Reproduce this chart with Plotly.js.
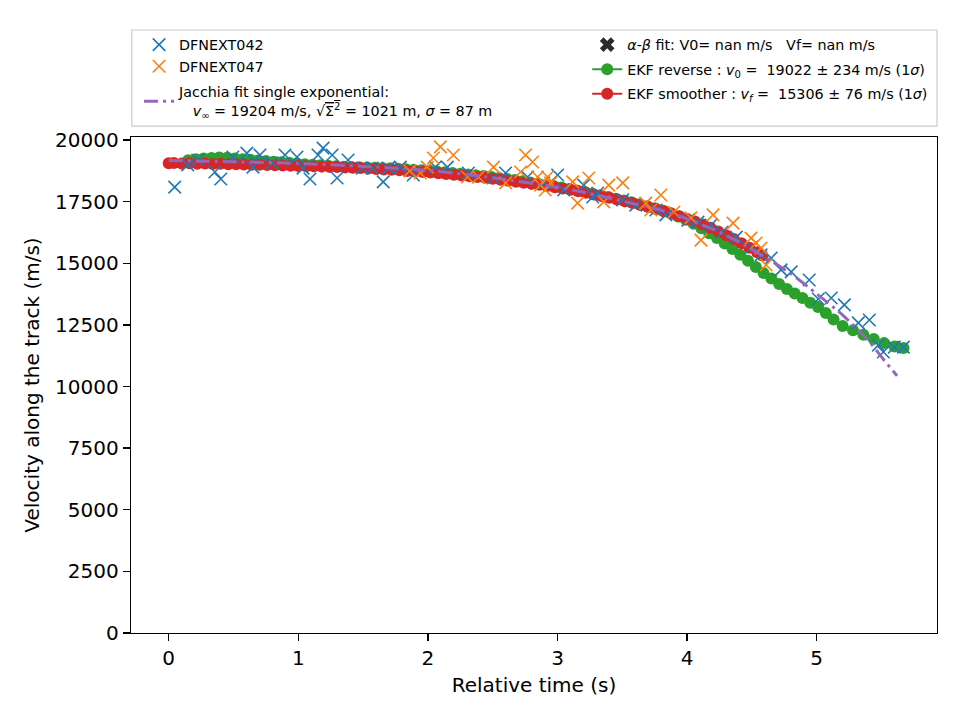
<!DOCTYPE html>
<html>
<head>
<meta charset="utf-8">
<script src="https://cdn.plot.ly/plotly-3.0.1.min.js"></script>
<style>html,body{margin:0;padding:0;background:#fff;}#chart{width:960px;height:720px;}</style>
</head>
<body>
<div id="chart"></div>
<script>
// DFNEXT042 observations
const t042 = [0.046,0.147,0.224,0.356,0.402,0.495,0.603,0.650,0.704,0.797,0.897,0.990,1.036,1.090,1.152,1.191,1.261,1.299,1.384,1.493,1.570,1.655,1.694,1.787,1.887,2.057,2.150,2.312,2.506,2.599,2.769,2.893,3.001,3.047,3.202,3.271,3.310,3.503,3.604,3.759,3.836,4.006,4.084,4.184,4.270,4.380,4.500,4.571,4.648,4.725,4.803,4.942,5.012,5.112,5.213,5.321,5.406,5.476,5.514,5.599,5.669];
const v042 = [18090,18990,19190,18700,18420,19310,19470,18900,19390,19070,19390,19310,18860,18420,19390,19670,19390,18460,19190,18860,18860,18300,18860,18900,18580,18900,18900,18660,18460,18660,18500,18260,18580,17970,18170,17690,17850,17570,17360,17160,16960,16750,16670,16550,16270,16060,15660,15340,15210,14730,14650,14320,13550,13590,13310,12580,12700,11680,11400,11600,11600];

// DFNEXT047 observations
const t047 = [1.860,1.941,1.995,2.042,2.096,2.196,2.305,2.390,2.506,2.600,2.715,2.753,2.807,2.846,2.869,2.905,2.923,2.947,3.117,3.155,3.241,3.357,3.395,3.503,3.681,3.720,3.797,3.898,4.029,4.107,4.200,4.354,4.493,4.532,4.571,4.610];
const v047 = [18750,18660,18900,19270,19720,19390,18500,18500,18900,18260,18700,19390,19110,18500,18170,17970,18500,18260,18300,17440,18460,17490,18170,18260,17440,17160,17770,17080,16840,15940,16960,16630,16020,15820,15620,14930];

// Jacchia fit single exponential
const tJac = [0,0.5,1.0,1.5,2.0,2.5,3.0,3.2,3.4,3.6,3.8,4.0,4.2,4.4,4.66,4.8,5.0,5.2,5.4,5.5,5.62];
const vJac = [19170,19120,19050,18930,18770,18470,18080,17880,17650,17400,17150,16800,16380,15860,15060,14580,13760,12900,11860,11200,10430];

// EKF reverse
const tRev = [0.15,0.21,0.27,0.33,0.39,0.45,0.51,0.57,0.63,0.69,0.75,0.81,0.87,0.93,0.99,1.05,1.11,1.17,1.23,1.29,1.35,1.41,1.47,1.53,1.59,1.65,1.71,1.77,1.83,1.89,1.95,2.01,2.07,2.13,2.19,2.25,2.31,2.37,2.43,2.49,2.55,2.61,2.67,2.73,2.79,2.85,2.91,2.97,3.03,3.09,3.15,3.21,3.27,3.33,3.39,3.45,3.51,3.57,3.63,3.69,3.75,3.81,3.87,3.93,3.99,4.05,4.11,4.17,4.23,4.29,4.35,4.41,4.47,4.53,4.59,4.65,4.71,4.77,4.83,4.89,4.95,5.01,5.07,5.13,5.20,5.28,5.36,5.44,5.52,5.60,5.67];
const vRev = [19180,19220,19250,19270,19290,19280,19250,19220,19200,19170,19150,19120,19100,19080,19050,19020,19000,18980,18960,18940,18920,18900,18890,18880,18870,18860,18850,18830,18810,18790,18770,18750,18720,18690,18660,18630,18600,18570,18540,18500,18460,18420,18380,18330,18280,18230,18180,18130,18070,18010,17950,17890,17820,17760,17690,17620,17550,17470,17390,17310,17230,17140,17040,16900,16760,16600,16420,16220,16020,15800,15580,15340,15100,14850,14600,14380,14160,13960,13770,13590,13400,13230,12980,12720,12450,12280,12100,11930,11760,11620,11560];

// EKF smoother
const tSm = [0.00,0.04,0.10,0.16,0.22,0.28,0.34,0.40,0.46,0.52,0.58,0.64,0.70,0.76,0.82,0.88,0.94,1.00,1.06,1.12,1.18,1.24,1.30,1.36,1.42,1.48,1.54,1.60,1.66,1.72,1.78,1.84,1.90,1.96,2.02,2.08,2.14,2.20,2.26,2.32,2.38,2.44,2.50,2.56,2.62,2.68,2.74,2.80,2.86,2.92,2.98,3.04,3.10,3.16,3.22,3.28,3.34,3.40,3.46,3.52,3.58,3.64,3.70,3.76,3.82,3.88,3.94,4.00,4.06,4.12,4.18,4.24,4.30,4.36,4.42,4.48,4.54,4.58];
const vSm = [19060,19070,19050,19060,19040,19050,19030,19040,19020,19020,19010,19000,19000,18990,18980,18970,18960,18950,18940,18930,18920,18910,18900,18880,18870,18860,18840,18820,18800,18790,18770,18740,18720,18700,18680,18650,18620,18590,18560,18530,18500,18470,18430,18390,18350,18310,18270,18220,18180,18130,18080,18030,17980,17920,17860,17790,17730,17660,17590,17510,17440,17360,17280,17200,17110,17010,16910,16800,16690,16570,16440,16290,16140,15980,15810,15630,15450,15310];

const yTicks = [0,2500,5000,7500,10000,12500,15000,17500,20000];
const xTicks = [0,1,2,3,4,5];

const FONT = 'DejaVu Sans, sans-serif';

const traces = [
  {x: tRev, y: vRev, type:'scatter', mode:'lines+markers', name:'EKF reverse : <i>v</i><sub>0</sub> =  19022 ± 234 m/s (1<i>σ</i>)',
   line:{color:'#2ca02c', width:2}, marker:{color:'#2ca02c', size:12, symbol:'circle'}, legend:'legend2', legendrank:2, legendgroup:'g2'},
  {x: tSm, y: vSm, type:'scatter', mode:'lines+markers', name:'EKF smoother : <i>v</i><sub><i>f</i></sub> =  15306 ± 76 m/s (1<i>σ</i>)',
   line:{color:'#d62728', width:2}, marker:{color:'#d62728', size:12, symbol:'circle'}, legend:'legend2', legendrank:3, legendgroup:'g3'},
  {x: t042, y: v042, type:'scatter', mode:'markers', name:'DFNEXT042',
   marker:{symbol:'x-thin', size:12.5, color:'#1f77b4', line:{color:'#1f77b4', width:1.6}}, legend:'legend', legendrank:1, legendgroup:'a'},
  {x: t047, y: v047, type:'scatter', mode:'markers', name:'DFNEXT047',
   marker:{symbol:'x-thin', size:12.5, color:'#ff7f0e', line:{color:'#ff7f0e', width:1.6}}, legend:'legend', legendrank:2, legendgroup:'a'},
  {x: tJac, y: vJac, type:'scatter', mode:'lines', line:{color:'#9467bd', width:3, dash:'14px,5px,3px,5px', shape:'spline', smoothing:0.6},
   name:'Jacchia fit single exponential:<br>\u00a0\u00a0\u00a0<i>v</i><sub>∞</sub> = 19204 m/s, √<span style="text-decoration:overline">Σ<sup>2</sup></span> = 1021 m, <i>σ</i> = 87 m',
   legend:'legend', legendrank:3, legendgroup:'b'},
  {x: [null], y: [null], type:'scatter', mode:'markers', name:'<i>α</i>-<i>β</i> fit: V0= nan m/s   Vf= nan m/s',
   marker:{symbol:'x', size:13, color:'#2b2b2b'}, legend:'legend2', legendrank:1, legendgroup:'g1'}
];

const layout = {
  width:960, height:720,
  margin:{l:131, r:23, t:137, b:87, pad:0},
  paper_bgcolor:'#ffffff', plot_bgcolor:'#ffffff',
  font:{family:FONT, color:'#000', size:20},
  showlegend:true,
  xaxis:{range:[-0.291,5.928], tickvals:xTicks, ticktext:xTicks.map(String), showgrid:false, zeroline:false,
    showline:true, mirror:true, linecolor:'#000', linewidth:1.3, ticks:'outside', ticklen:7, tickwidth:1.3, tickcolor:'#000',
    tickfont:{size:20, family:FONT}, title:{text:'Relative time (s)', font:{size:20, family:FONT}, standoff:8}},
  yaxis:{range:[0,20122], tickvals:yTicks, ticktext:yTicks.map(String), showgrid:false, zeroline:false,
    showline:true, mirror:true, linecolor:'#000', linewidth:1.3, ticks:'outside', ticklen:7, tickwidth:1.3, tickcolor:'#000',
    tickfont:{size:20, family:FONT}, title:{text:'Velocity along the track (m/s)', font:{size:20, family:FONT}, standoff:10}},
  legend:{x:0.010, y:1.218, xanchor:'left', yanchor:'top', bgcolor:'rgba(0,0,0,0)', borderwidth:0,
    font:{size:14.3, family:FONT}, orientation:'v', tracegroupgap:4, itemwidth:30},
  legend2:{x:0.566, y:1.218, xanchor:'left', yanchor:'top', bgcolor:'rgba(0,0,0,0)', borderwidth:0,
    font:{size:14.3, family:FONT}, orientation:'v', tracegroupgap:3, itemwidth:30},
  shapes:[{type:'rect', xref:'paper', yref:'paper', x0:0.001, x1:1.0, y0:1.022, y1:1.2157,
    line:{color:'#cccccc', width:1.2}, fillcolor:'rgba(255,255,255,0.8)', layer:'below'}]
};

Plotly.newPlot('chart', traces, layout, {displayModeBar:false, staticPlot:true});
</script>
</body>
</html>
